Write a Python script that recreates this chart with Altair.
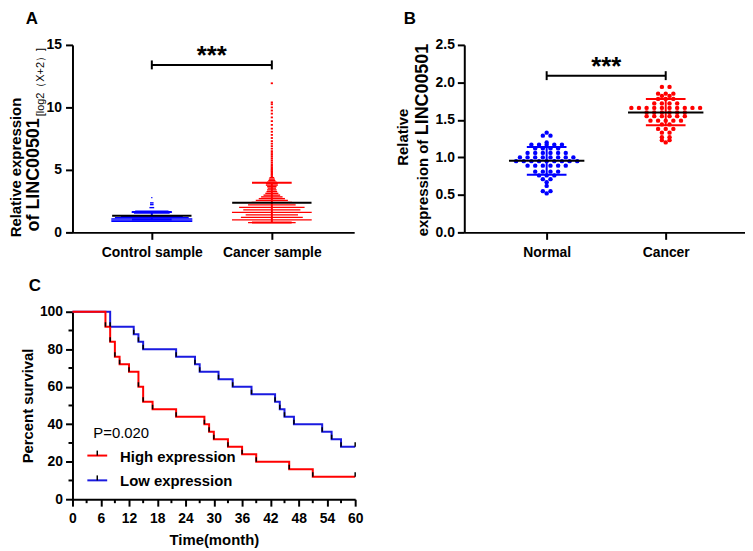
import altair as alt
import pandas as pd

FONT = "Liberation Sans"
BLACK = "#000000"

# ------------------------------------------------------------------ Panel A
a_groups = ["Control sample", "Cancer sample"]
a_pos = [1, 2]
a_colors = ["#0000ff", "#ff0000"]
a_yticks = [0, 5, 10, 15]
ctrl_levels = [0.88, 0.98, 1.08, 1.18, 1.27, 1.54, 1.62, 1.70, 1.98, 2.22, 2.36, 2.78]
ctrl_counts = [68, 68, 68, 62, 52, 30, 34, 28, 4, 3, 3, 1]
canc_levels = [0.78, 1.0, 1.2, 1.4, 1.6, 1.8, 2.0, 2.2, 2.4, 2.56, 2.7, 2.84, 2.98,
               3.12, 3.26, 3.4, 3.54, 3.66, 3.78, 3.9, 4.02, 4.14, 4.26, 4.38]
canc_counts = [40, 67, 52, 44, 67, 48, 55, 40, 34, 27, 22, 18, 14,
               11, 9, 8, 7, 8, 10, 10, 8, 6, 5, 4]
canc_tail = [4.5, 4.6, 4.7, 4.8, 4.9, 5.0, 5.1, 5.2, 5.32, 5.45, 5.6, 5.75, 5.9,
             6.05, 6.2, 6.35, 6.5, 6.7, 6.9, 7.1, 7.3, 7.55, 7.8, 8.05, 8.3, 8.6, 8.9,
             9.2, 9.5, 9.75, 10.0, 10.25, 10.4, 11.93]
a_mean = [1.33, 2.38]
a_sd_lo = [1.03, 0.79]
a_sd_hi = [1.63, 3.97]
a_bracket_y = 13.4

# ------------------------------------------------------------------ Panel B
b_groups = ["Normal", "Cancer"]
b_pos = [1, 2]
b_colors = ["#1515c8", "#ff1a1a"]
b_yticks = [0, 0.5, 1.0, 1.5, 2.0, 2.5]
normal_levels = [1.33, 1.29, 1.20, 1.17, 1.12, 1.06, 1.00, 0.95, 0.89, 0.81, 0.76, 0.71, 0.67, 0.62, 0.55, 0.52]
normal_counts = [1, 2, 1, 5, 4, 6, 8, 9, 6, 4, 3, 2, 1, 1, 2, 1]
cancer_levels = [1.94, 1.85, 1.82, 1.78, 1.72, 1.66, 1.60, 1.55, 1.49, 1.44, 1.38, 1.33, 1.27, 1.23, 1.20]
cancer_counts = [2, 3, 2, 3, 4, 10, 6, 6, 5, 2, 3, 2, 2, 2, 1]
b_mean = [0.955, 1.60]
b_sd_lo = [0.77, 1.43]
b_sd_hi = [1.14, 1.78]
b_bracket_y = 2.09

# ------------------------------------------------------------------ Panel C
c_groups = ["High expression", "Low expression"]
c_colors = ["#ff0000", "#1a1ae0"]
c_xticks = [0, 6, 12, 18, 24, 30, 36, 42, 48, 54, 60]
c_xminor = [3, 9, 15, 21, 27, 33, 39, 45, 51, 57]
c_yticks = [0, 20, 40, 60, 80, 100]
c_yminor = [10, 30, 50, 70, 90]
high_time = [0, 7, 8, 9, 10, 12, 14, 15, 17, 22, 28, 29, 30, 33, 36, 39, 46, 51, 60]
high_surv = [100, 92, 84, 76, 72, 68, 60, 52, 48, 44, 40, 36, 32, 28, 24, 20, 16, 12, 12]
low_time = [0, 8, 13, 14, 15, 22, 26, 27, 31, 34, 38, 43, 44, 45, 47, 53, 55, 57, 60]
low_surv = [100, 92, 88, 84, 80, 76, 72, 68, 64, 60, 56, 52, 48, 44, 40, 36, 32, 28, 28]
p_text = "P=0.020"

# ------------------------------------------------------------------ sizes
H = 189
A_W, B_W, C_W = 284, 283, 285
A_XDOM = [0.339, 2.686]
B_XDOM = [0.308, 2.666]
A_XU = A_W / (A_XDOM[1] - A_XDOM[0])
A_YU = H / 15.0
B_XU = B_W / (B_XDOM[1] - B_XDOM[0])
B_YU = H / 2.5


def label_expr(positions, names):
    expr = "''"
    for p, n in zip(reversed(positions), reversed(names)):
        expr = f"datum.value == {p} ? '{n}' : ({expr})"
    return expr


def text_layer(txt, x, y, size, weight="bold", angle=0, align="left", baseline="alphabetic"):
    return alt.Chart(pd.DataFrame({"t": [txt]})).mark_text(
        font=FONT, fontSize=size, fontWeight=weight, angle=angle, align=align,
        baseline=baseline, color=BLACK
    ).encode(text="t:N", x=alt.value(x), y=alt.value(y))


# ================================================================== Panel A
sx_a = alt.Scale(domain=A_XDOM, nice=False, zero=False)
sy_a = alt.Scale(domain=[0, 15], nice=False, zero=False)
ax_xa = alt.Axis(values=a_pos, labelExpr=label_expr(a_pos, a_groups), title=None, labelPadding=6)
ax_ya = alt.Axis(values=a_yticks, title=None, labelPadding=4)
col_a = alt.Color("group:N", scale=alt.Scale(domain=a_groups, range=a_colors), legend=None)


def XA(f):
    return alt.X(f"{f}:Q", scale=sx_a, axis=ax_xa)


def YA(f):
    return alt.Y(f"{f}:Q", scale=sy_a, axis=ax_ya)


pitch_a = 1.2 / A_XU
half_h = 0.7 / A_YU
rows = []
for g, pos, levels, counts in [(a_groups[0], a_pos[0], ctrl_levels, ctrl_counts),
                               (a_groups[1], a_pos[1], canc_levels, canc_counts)]:
    for lv, n in zip(levels, counts):
        half = n * pitch_a / 2
        rows.append({"group": g, "x": pos - half, "x2": pos + half, "y": lv - half_h, "y2": lv + half_h})
for v in canc_tail:
    half = 2.2 / A_XU / 2
    rows.append({"group": a_groups[1], "x": a_pos[1] - half, "x2": a_pos[1] + half,
                 "y": v - 0.9 / A_YU, "y2": v + 0.9 / A_YU})
df_rows_a = pd.DataFrame(rows)

dots_a = alt.Chart(df_rows_a).mark_rect().encode(
    x=XA("x"), x2=alt.X2("x2"), y=YA("y"), y2=alt.Y2("y2"), color=col_a)

cap_a = 20 / A_XU
mean_a = 40 / A_XU
eb_a = pd.DataFrame({"group": a_groups, "pos": a_pos, "lo": a_sd_lo, "hi": a_sd_hi, "mean": a_mean})
eb_a["capL"] = eb_a["pos"] - cap_a
eb_a["capR"] = eb_a["pos"] + cap_a
eb_a["meanL"] = eb_a["pos"] - mean_a
eb_a["meanR"] = eb_a["pos"] + mean_a
caps_a = pd.concat([eb_a.assign(val=eb_a["lo"]), eb_a.assign(val=eb_a["hi"])])

vert_a = alt.Chart(eb_a).mark_rule(strokeWidth=2).encode(x=XA("pos"), y=YA("lo"), y2=alt.Y2("hi"), color=col_a)
capl_a = alt.Chart(caps_a).mark_rule(strokeWidth=2).encode(x=XA("capL"), x2=alt.X2("capR"), y=YA("val"), color=col_a)
meanl_a = alt.Chart(eb_a).mark_rule(strokeWidth=2, color=BLACK).encode(x=XA("meanL"), x2=alt.X2("meanR"), y=YA("mean"))

br_a = pd.DataFrame({"x1": [a_pos[0]], "x2": [a_pos[1]], "y": [a_bracket_y], "xm": [(a_pos[0] + a_pos[1]) / 2]})
brend_a = pd.DataFrame({"x": a_pos, "y0": [a_bracket_y - 4.5 / A_YU] * 2, "y1": [a_bracket_y + 4.5 / A_YU] * 2})
bracket_a = alt.Chart(br_a).mark_rule(strokeWidth=2, color=BLACK).encode(x=XA("x1"), x2=alt.X2("x2"), y=YA("y"))
brends_a = alt.Chart(brend_a).mark_rule(strokeWidth=2, color=BLACK).encode(x=XA("x"), y=YA("y0"), y2=alt.Y2("y1"))
stars_a = alt.Chart(br_a).mark_text(text="***", font=FONT, fontSize=26, fontWeight="bold",
                                    baseline="alphabetic", dy=-1, color=BLACK).encode(x=XA("xm"), y=YA("y"))

panel_a = alt.layer(
    dots_a, vert_a, capl_a, meanl_a, bracket_a, brends_a, stars_a,
    text_layer("A", -47, -34, 17, baseline="top"),
    text_layer("Relative expression", -52, 194, 15, angle=270),
    text_layer("of LINC00501", -34, 188, 18, angle=270),
    text_layer("[log2（X+2）]", -29, 72, 11, weight="normal", angle=270),
).properties(width=A_W, height=H)

# ================================================================== Panel B
sx_b = alt.Scale(domain=B_XDOM, nice=False, zero=False)
sy_b = alt.Scale(domain=[0, 2.5], nice=False, zero=False)
ax_xb = alt.Axis(values=b_pos, labelExpr=label_expr(b_pos, b_groups), title=None, labelPadding=6)
ax_yb = alt.Axis(values=b_yticks, format=".1f", title=None, labelPadding=3)
col_b = alt.Color("group:N", scale=alt.Scale(domain=b_groups, range=b_colors), legend=None)


def XB(f):
    return alt.X(f"{f}:Q", scale=sx_b, axis=ax_xb)


def YB(f):
    return alt.Y(f"{f}:Q", scale=sy_b, axis=ax_yb)


pitch_b = 7.7 / B_XU
pts = []
for g, pos, levels, counts in [(b_groups[0], b_pos[0], normal_levels, normal_counts),
                               (b_groups[1], b_pos[1], cancer_levels, cancer_counts)]:
    for lv, n in zip(levels, counts):
        for i in range(n):
            pts.append({"group": g, "x": pos + (i - (n - 1) / 2) * pitch_b, "v": lv})
df_pts_b = pd.DataFrame(pts)
dots_b = alt.Chart(df_pts_b).mark_circle(size=20, opacity=1).encode(x=XB("x"), y=YB("v"), color=col_b)

cap_b = 20 / B_XU
mean_b = 38 / B_XU
eb_b = pd.DataFrame({"group": b_groups, "pos": b_pos, "lo": b_sd_lo, "hi": b_sd_hi, "mean": b_mean})
eb_b["capL"] = eb_b["pos"] - cap_b
eb_b["capR"] = eb_b["pos"] + cap_b
eb_b["meanL"] = eb_b["pos"] - mean_b
eb_b["meanR"] = eb_b["pos"] + mean_b
caps_b = pd.concat([eb_b.assign(val=eb_b["lo"]), eb_b.assign(val=eb_b["hi"])])
vert_b = alt.Chart(eb_b).mark_rule(strokeWidth=2).encode(x=XB("pos"), y=YB("lo"), y2=alt.Y2("hi"), color=col_b)
capl_b = alt.Chart(caps_b).mark_rule(strokeWidth=2).encode(x=XB("capL"), x2=alt.X2("capR"), y=YB("val"), color=col_b)
meanl_b = alt.Chart(eb_b).mark_rule(strokeWidth=2, color=BLACK).encode(x=XB("meanL"), x2=alt.X2("meanR"), y=YB("mean"))

br_b = pd.DataFrame({"x1": [b_pos[0]], "x2": [b_pos[1]], "y": [b_bracket_y], "xm": [(b_pos[0] + b_pos[1]) / 2]})
brend_b = pd.DataFrame({"x": b_pos, "y0": [b_bracket_y - 4.5 / B_YU] * 2, "y1": [b_bracket_y + 4.5 / B_YU] * 2})
bracket_b = alt.Chart(br_b).mark_rule(strokeWidth=2, color=BLACK).encode(x=XB("x1"), x2=alt.X2("x2"), y=YB("y"))
brends_b = alt.Chart(brend_b).mark_rule(strokeWidth=2, color=BLACK).encode(x=XB("x"), y=YB("y0"), y2=alt.Y2("y1"))
stars_b = alt.Chart(br_b).mark_text(text="***", font=FONT, fontSize=26, fontWeight="bold",
                                    baseline="alphabetic", dy=-1, color=BLACK).encode(x=XB("xm"), y=YB("y"))

panel_b = alt.layer(
    dots_b, vert_b, capl_b, meanl_b, bracket_b, brends_b, stars_b,
    text_layer("B", -61, -34, 17, baseline="top"),
    text_layer("Relative", -57, 93, 15, angle=270, align="center"),
    text_layer("expression of ", -37, 193, 15, angle=270),
    text_layer("LINC00501", -37, 91, 18, angle=270),
).properties(width=B_W, height=H)

# ================================================================== Panel C
sx_c = alt.Scale(domain=[0, 60], nice=False, zero=False)
sy_c = alt.Scale(domain=[0, 100], nice=False, zero=False)
ax_xc = alt.Axis(values=c_xticks, title="Time(month)", labelPadding=5, titlePadding=8)
ax_yc = alt.Axis(values=c_yticks, title="Percent survival", labelPadding=3, titlePadding=4)


def XC(f):
    return alt.X(f"{f}:Q", scale=sx_c, axis=ax_xc)


def YC(f):
    return alt.Y(f"{f}:Q", scale=sy_c, axis=ax_yc)


df_high = pd.DataFrame({"t": high_time, "s": high_surv})
df_low = pd.DataFrame({"t": low_time, "s": low_surv})
line_low = alt.Chart(df_low).mark_line(interpolate="step-after", strokeWidth=2, color=c_colors[1]).encode(x=XC("t"), y=YC("s"))
line_high = alt.Chart(df_high).mark_line(interpolate="step-after", strokeWidth=2, color=c_colors[0]).encode(x=XC("t"), y=YC("s"))

ticks = []
for tt, ss in [(high_time, high_surv), (low_time, low_surv)]:
    for i in range(1, len(tt)):
        if ss[i] != ss[i - 1] or i == len(tt) - 1:
            ticks.append({"t": tt[i], "s0": ss[i], "s1": ss[i] + 4.5 / (H / 100)})
df_ticks = pd.DataFrame(ticks)
cens = alt.Chart(df_ticks).mark_rule(strokeWidth=1.5, color=BLACK).encode(x=XC("t"), y=YC("s0"), y2=alt.Y2("s1"))

minx = alt.Chart(pd.DataFrame({"m": c_xminor})).mark_rule(strokeWidth=2, color=BLACK).encode(
    x=XC("m"), y=alt.value(H), y2=alt.value(H + 4))
miny = alt.Chart(pd.DataFrame({"m": c_yminor})).mark_rule(strokeWidth=2, color=BLACK).encode(
    y=YC("m"), x=alt.value(-4), x2=alt.value(0))

leg_rule_hi = alt.Chart(pd.DataFrame({"g": [c_groups[0]]})).mark_rule(strokeWidth=2, color=c_colors[0]).encode(
    x=alt.value(15), x2=alt.value(35), y=alt.value(145))
leg_rule_lo = alt.Chart(pd.DataFrame({"g": [c_groups[1]]})).mark_rule(strokeWidth=2, color=c_colors[1]).encode(
    x=alt.value(15), x2=alt.value(35), y=alt.value(170))
leg_tick_hi = alt.Chart(pd.DataFrame({"g": [c_groups[0]]})).mark_rule(strokeWidth=1.5, color=BLACK).encode(
    x=alt.value(25), y=alt.value(140), y2=alt.value(145))
leg_tick_lo = alt.Chart(pd.DataFrame({"g": [c_groups[1]]})).mark_rule(strokeWidth=1.5, color=BLACK).encode(
    x=alt.value(25), y=alt.value(165), y2=alt.value(170))

panel_c = alt.layer(
    line_low, line_high, cens, minx, miny,
    leg_rule_hi, leg_rule_lo, leg_tick_hi, leg_tick_lo,
    text_layer("C", -44, -34, 17, baseline="top"),
    text_layer(p_text, 21, 122, 15, weight="normal", baseline="middle"),
    text_layer(c_groups[0], 48, 146, 15, baseline="middle"),
    text_layer(c_groups[1], 48, 171, 15, baseline="middle"),
).properties(width=C_W, height=H)

chart = alt.concat(
    panel_a, panel_b, panel_c, columns=2,
    spacing={"row": 80, "column": 110}, bounds="flush", align="each",
    padding={"left": 0, "top": 0, "right": 0, "bottom": 0},
    background="white",
).configure_axis(
    labelFont=FONT, labelFontSize=14, labelFontWeight="bold", labelColor=BLACK,
    titleFont=FONT, titleFontSize=15, titleFontWeight="bold", titleColor=BLACK,
    domainColor=BLACK, domainWidth=2, tickColor=BLACK, tickWidth=2, tickSize=7,
    grid=False, labelFlush=False, labelOverlap=False, labelBound=False,
).configure_view(stroke=None)

chart.save("out.html", embed_options={"renderer": "svg", "actions": False})
